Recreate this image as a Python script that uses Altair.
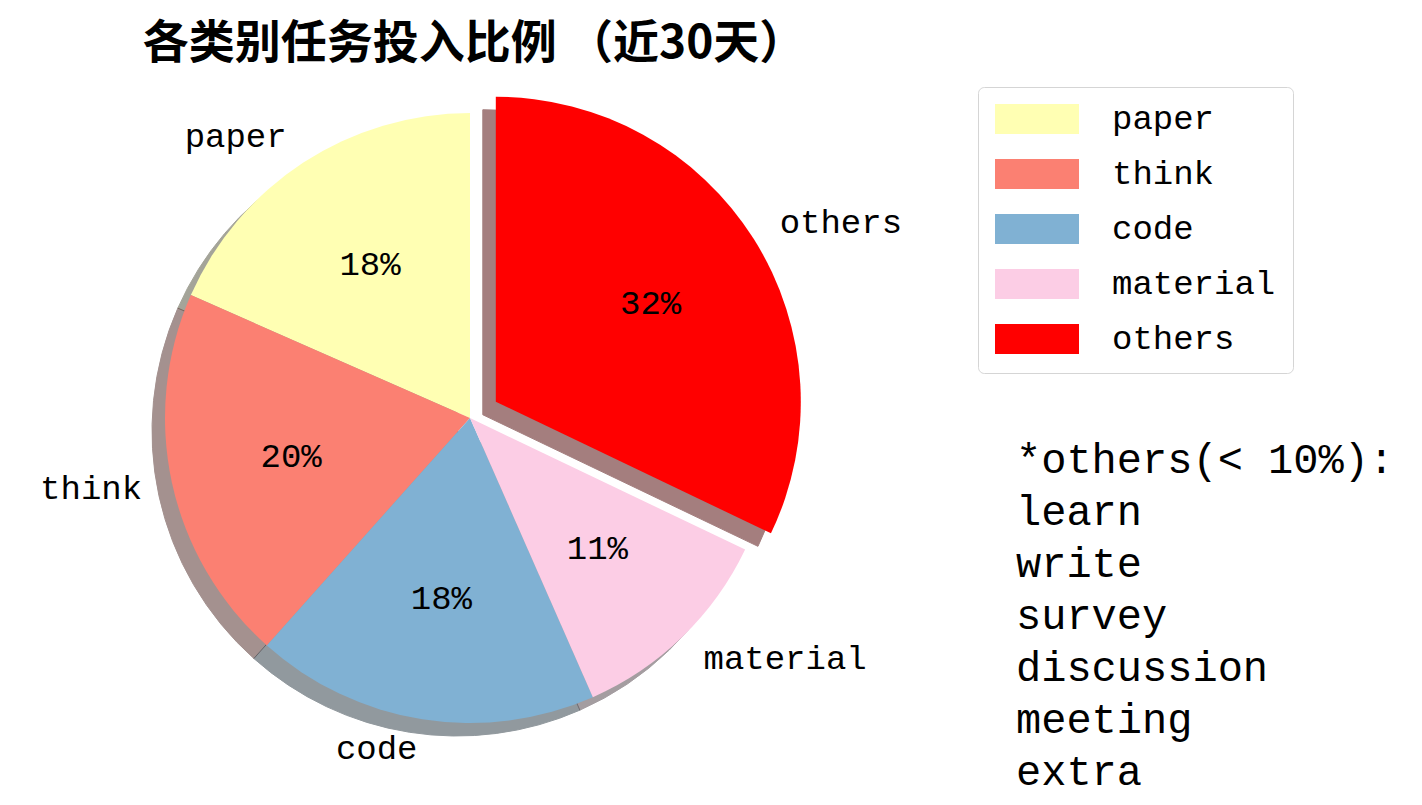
import altair as alt
import pandas as pd

# ---- data ----
labels = ["paper", "think", "code", "material", "others"]
shares = [18.4, 20.0, 18.2, 11.3, 32.1]
explode = [0.0, 0.0, 0.0, 0.0, 0.1]
palette = ["#ffffb3", "#fb8072", "#80b1d3", "#fccde5", "#ff0000"]
note_lines = ["*others(< 10%):", "learn", "write", "survey", "discussion", "meeting", "extra"]
title_text = "各类别任务投入比例 （近30天）"

# ---- layout (pixels) ----
W, H = 1422, 805
CX, CY, R = 470, 418, 305
SH = 13
FONT = "Liberation Mono"


def shade(hexc, f=0.3):
    h = hexc.lstrip("#")
    r, g, b = (int(h[i:i + 2], 16) for i in (0, 2, 4))
    return "#%02x%02x%02x" % (int(r * f), int(g * f), int(b * f))


shadow_palette = [shade(c) for c in palette]

# Vega draws clockwise from 12 o'clock; matplotlib went counter-clockwise,
# so the stacking rank is the reverse of the list order.
df = pd.DataFrame({
    "label": labels,
    "share": shares,
    "explode": explode,
    "rank": list(range(len(labels)))[::-1],
})

base = alt.Chart(df).transform_window(
    cum="sum(share)", sort=[alt.SortField("rank")], frame=[None, 0]
).transform_calculate(
    s0="datum.cum - datum.share",
    s1="datum.cum",
    mid="(datum.cum - datum.share / 2) / 100 * 2 * PI",
).transform_calculate(
    cx=f"{CX} + datum.explode * {R} * sin(datum.mid)",
    cy=f"{CY} - datum.explode * {R} * cos(datum.mid)",
).transform_calculate(
    sx=f"datum.cx - {SH}",
    sy=f"datum.cy + {SH}",
    px=f"datum.cx + 0.6 * {R} * sin(datum.mid)",
    py=f"datum.cy - 0.6 * {R} * cos(datum.mid)",
    lx=f"datum.cx + 1.1 * {R} * sin(datum.mid)",
    ly=f"datum.cy - 1.1 * {R} * cos(datum.mid)",
    pct="format(datum.share, '.0f') + '%'",
)

theta_scale = alt.Scale(domain=[0, 100], range=[0, 6.283185307179586])

shadow = base.mark_arc(outerRadius=R, opacity=0.5, strokeWidth=1).encode(
    x=alt.X("sx:Q", scale=None, axis=None),
    y=alt.Y("sy:Q", scale=None, axis=None),
    theta=alt.Theta("s0:Q", scale=theta_scale),
    theta2="s1:Q",
    fill=alt.Fill("label:N", scale=alt.Scale(domain=labels, range=shadow_palette), legend=None),
    stroke=alt.Stroke("label:N", scale=alt.Scale(domain=labels, range=shadow_palette), legend=None),
)

wedges = base.mark_arc(outerRadius=R, strokeWidth=0).encode(
    x=alt.X("cx:Q", scale=None, axis=None),
    y=alt.Y("cy:Q", scale=None, axis=None),
    theta=alt.Theta("s0:Q", scale=theta_scale),
    theta2="s1:Q",
    color=alt.Color(
        "label:N",
        scale=alt.Scale(domain=labels, range=palette),
        legend=alt.Legend(
            title=None,
            orient="none",
            legendX=978,
            legendY=87,
            symbolType="M-1,-0.357H1V0.357H-1Z",
            symbolSize=7056,
            symbolStrokeWidth=0,
            symbolOpacity=1,
            labelFont=FONT,
            labelFontSize=34,
            labelColor="#000000",
            labelOffset=33,
            labelLimit=400,
            rowPadding=21,
            clipHeight=30,
            padding=17,
            fillColor="#ffffff",
            strokeColor="#d5d5d5",
            cornerRadius=6,
        ),
    ),
)

pct_text = base.mark_text(font=FONT, fontSize=34, align="center", baseline="middle", color="#000000").encode(
    x=alt.X("px:Q", scale=None, axis=None),
    y=alt.Y("py:Q", scale=None, axis=None),
    text="pct:N",
)

left_labels = base.transform_filter("sin(datum.mid) < 0").mark_text(
    font=FONT, fontSize=34, align="right", baseline="middle", color="#000000"
).encode(
    x=alt.X("lx:Q", scale=None, axis=None),
    y=alt.Y("ly:Q", scale=None, axis=None),
    text="label:N",
)

right_labels = base.transform_filter("sin(datum.mid) >= 0").mark_text(
    font=FONT, fontSize=34, align="left", baseline="middle", color="#000000"
).encode(
    x=alt.X("lx:Q", scale=None, axis=None),
    y=alt.Y("ly:Q", scale=None, axis=None),
    text="label:N",
)

one = pd.DataFrame({"k": [0]})

note = alt.Chart(one).mark_text(
    font=FONT, fontSize=42, align="left", baseline="alphabetic", lineHeight=52, color="#000000"
).encode(
    x=alt.value(1016),
    y=alt.value(473),
    text=alt.value(note_lines),
)

title = alt.Chart(one).mark_text(
    font="Noto Sans CJK SC", fontSize=46, fontWeight="bold", align="center", baseline="middle", color="#000000"
).encode(
    x=alt.value(474),
    y=alt.value(44),
    text=alt.value(title_text),
)

chart = alt.layer(shadow, wedges, pct_text, left_labels, right_labels, note, title).resolve_scale(
    color="independent", fill="independent", stroke="independent"
).properties(
    width=W, height=H, padding=0, autosize=alt.AutoSizeParams(type="none"), background="#ffffff"
).configure_view(stroke=None)

chart.save("out.html", embed_options={"renderer": "svg", "actions": False})
